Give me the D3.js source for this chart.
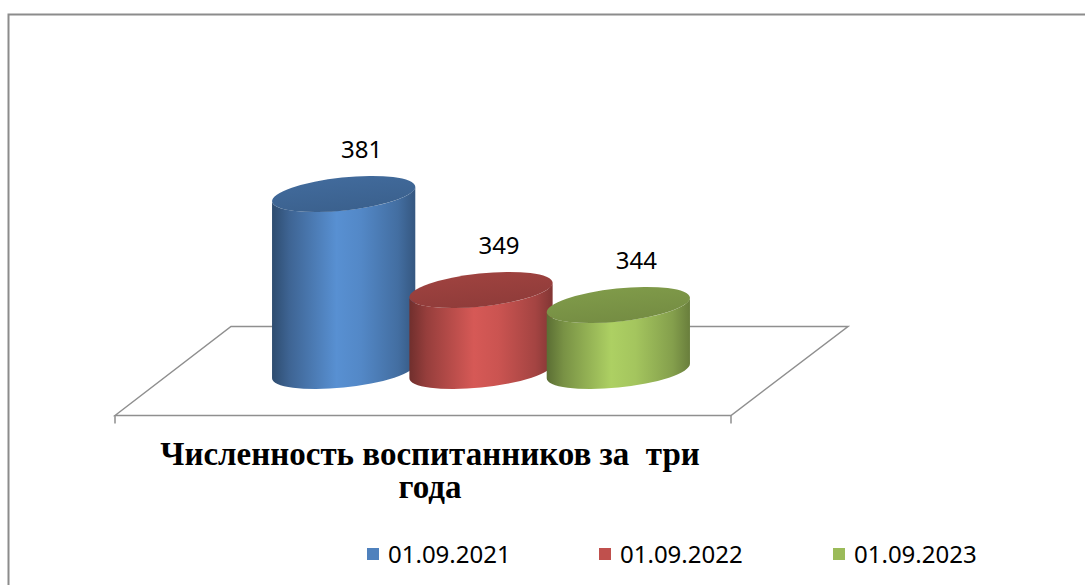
<!DOCTYPE html>
<html>
<head>
<meta charset="utf-8">
<script src="https://cdn.jsdelivr.net/npm/d3@7/dist/d3.min.js"></script>
<style>
  html, body { margin: 0; padding: 0; background: #ffffff; }
  svg { display: block; }
  text { white-space: pre; }
</style>
</head>
<body>
<script>
// ---- data ----
const series = ["01.09.2021", "01.09.2022", "01.09.2023"];
const values = [381, 349, 344];
const colors = ["#4F81BD", "#C0504D", "#9BBB59"];
const titleLines = ["Численность воспитанников за  три", "года"];
const axisDomain = [320, 400];

// ---- layout ----
const W = 1085, H = 585;
const svg = d3.select("body").append("svg").attr("width", W).attr("height", H);
const defs = svg.append("defs");

// outer chart border (extends beyond the window)
svg.append("path")
  .attr("d", `M8.5,${H + 5} V14.5 H${W + 5}`)
  .attr("fill", "none").attr("stroke", "#8c8c8c").attr("stroke-width", 2);

// floor (3D plane)
const floor = { backY: 326.5, frontY: 415.5, bl: 231, br: 848, fl: 115, fr: 731 };
svg.append("path")
  .attr("d", `M${floor.fl},${floor.frontY} L${floor.bl},${floor.backY} L${floor.br},${floor.backY} L${floor.fr},${floor.frontY} Z`)
  .attr("fill", "none").attr("stroke", "#8f8f8f").attr("stroke-width", 1.5);
svg.append("path")
  .attr("d", `M${floor.fl},${floor.frontY} V${floor.frontY + 8} M${floor.fr},${floor.frontY} V${floor.frontY + 8}`)
  .attr("fill", "none").attr("stroke", "#8f8f8f").attr("stroke-width", 1.5);

// scales
const x = d3.scaleBand().domain(series).range([275, 687]).padding(0);
const y = d3.scaleLinear().domain(axisDomain).range([377, 137]);
const baseY = 371;

// cylinder geometry
const a = 72, b = 16.5, rotDeg = -6;
const th = rotDeg * Math.PI / 180;
const t0 = Math.atan(-b * Math.tan(th) / a);
const ex = a * Math.cos(t0) * Math.cos(th) - b * Math.sin(t0) * Math.sin(th);
const ey = a * Math.cos(t0) * Math.sin(th) + b * Math.sin(t0) * Math.cos(th);

series.forEach((s, i) => {
  const c = d3.color(colors[i]);
  const gid = "body" + i;
  const g = defs.append("linearGradient").attr("id", gid)
    .attr("x1", "0%").attr("x2", "100%").attr("y1", "0%").attr("y2", "0%");
  [[0, c.darker(1.5)], [0.12, c.darker(0.7)], [0.45, c.brighter(0.3)], [0.62, c.brighter(0.15)],
   [0.88, c.darker(0.45)], [1, c.darker(1.1)]].forEach(([o, col]) =>
    g.append("stop").attr("offset", o).attr("stop-color", col.formatHex()));
  const tg = defs.append("linearGradient").attr("id", "top" + i)
    .attr("x1", "0%").attr("x2", "0%").attr("y1", "0%").attr("y2", "100%");
  [[0, c.darker(0.55)], [1, c.darker(0.8)]].forEach(([o, col]) =>
    tg.append("stop").attr("offset", o).attr("stop-color", col.formatHex()));
});

const cyl = svg.append("g");
series.forEach((s, i) => {
  const cx = x(s) + x.bandwidth() / 2;
  const ty = y(values[i]);
  const Lt = [cx - ex, ty - ey], Rt = [cx + ex, ty + ey];
  const Lb = [cx - ex, baseY - ey], Rb = [cx + ex, baseY + ey];
  const d = `M${Lt[0]},${Lt[1]} L${Lb[0]},${Lb[1]} A${a},${b} ${rotDeg} 0 0 ${Rb[0]},${Rb[1]} ` +
            `L${Rt[0]},${Rt[1]} A${a},${b} ${rotDeg} 0 1 ${Lt[0]},${Lt[1]} Z`;
  cyl.append("path").attr("d", d).attr("fill", `url(#body${i})`);
  cyl.append("ellipse")
    .attr("cx", 0).attr("cy", 0).attr("rx", a).attr("ry", b)
    .attr("transform", `translate(${cx},${ty}) rotate(${rotDeg})`)
    .attr("fill", `url(#top${i})`);
});

// data labels
svg.append("g").selectAll("text").data(series).join("text")
  .attr("x", (s) => x(s) + x.bandwidth() / 2 + 18)
  .attr("y", (s, i) => y(values[i]) - 36)
  .attr("text-anchor", "middle")
  .attr("font-family", "'Noto Sans', 'Open Sans', sans-serif")
  .attr("font-size", 24)
  .attr("fill", "#000")
  .text((s, i) => values[i]);

// title (category label)
const title = svg.append("text")
  .attr("text-anchor", "middle")
  .attr("font-family", "'Liberation Serif', 'Times New Roman', serif")
  .attr("font-weight", "bold")
  .attr("font-size", 33)
  .attr("fill", "#000");
titleLines.forEach((t, i) => {
  title.append("tspan").attr("x", 430).attr("y", 465 + i * 33).text(t);
});

// legend
const legendX = [367, 599, 833];
const lg = svg.append("g").selectAll("g").data(series).join("g")
  .attr("transform", (s, i) => `translate(${legendX[i]},548)`);
lg.append("rect").attr("width", 12).attr("height", 12).attr("fill", (s, i) => colors[i]);
lg.append("text").attr("x", 21).attr("y", 15)
  .attr("font-family", "'Noto Sans', 'Open Sans', sans-serif")
  .attr("font-size", 24).attr("fill", "#000")
  .text((s) => s);
</script>
</body>
</html>
